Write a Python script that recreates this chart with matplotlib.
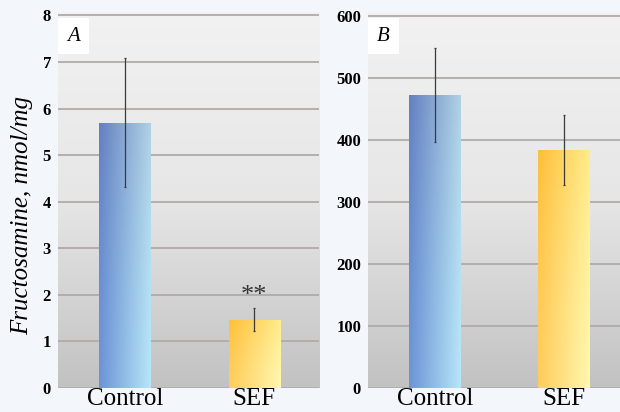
import numpy as np
import matplotlib
matplotlib.use('Agg')
import matplotlib.pyplot as plt
from matplotlib.colors import LinearSegmentedColormap

# -- data
groups = ['Control', 'SEF']
fa_mean = [5.7, 1.47]
fa_err = [1.39, 0.24]
fb_mean = [472, 384]
fb_err = [76, 57]
ticks_a = [0, 1, 2, 3, 4, 5, 6, 7, 8]
ticks_b = [0, 100, 200, 300, 400, 500, 600]

serif = ['Liberation Serif', 'DejaVu Serif']
figbg = '#f3f6fb'
gridcol = '#b0aba9'

fig = plt.figure(figsize=(6.2, 4.12), dpi=100, facecolor=figbg)

# gradient images: horizontal x vertical
nx, ny = 64, 128
hx = np.linspace(0, 1, nx)[None, :]
vy = np.linspace(0, 1, ny)[:, None]  # 0 = top


def bar_image(left_rgb, right_rgb, top_shift):
    left_rgb = np.array(left_rgb)
    right_rgb = np.array(right_rgb)
    img = left_rgb[None, None, :] * (1 - hx[..., None]) + right_rgb[None, None, :] * hx[..., None]
    # a bit darker toward the top
    img = img - top_shift[None, None, :] * (1 - vy[..., None]) ** 1.5
    return np.clip(img, 0, 1)


blue_img = bar_image([0.42, 0.58, 0.84], [0.72, 0.90, 0.97], np.array([0.03, 0.08, 0.08]))
yellow_img = bar_image([1.00, 0.80, 0.36], [1.00, 0.97, 0.68], np.array([0.0, 0.05, 0.14]))
bar_imgs = [blue_img, yellow_img]

bg_cmap = LinearSegmentedColormap.from_list('bg', ['#f2f2f2', '#e6e6e6', '#c2c2c2'])


def panel(rect, means, errs, ymax, ticks, letter):
    ax = fig.add_axes(rect)
    ax.set_facecolor('none')
    # background gradient
    ax.imshow(np.linspace(0, 1, 256)[:, None], aspect='auto', cmap=bg_cmap,
              extent=[0, 1, 0, 1], transform=ax.transAxes, zorder=0)
    x = np.arange(len(groups))
    bars = ax.bar(x, means, width=0.4, color='none', zorder=3)
    for b, img in zip(bars, bar_imgs):
        bx, by = b.get_x(), b.get_y()
        im = ax.imshow(img, aspect='auto', interpolation='bilinear',
                       extent=[bx, bx + b.get_width(), by, by + b.get_height()], zorder=3)
        im.set_clip_path(b)
    ax.errorbar(x, means, yerr=errs, fmt='none', ecolor='#3a3a3a', elinewidth=0.9,
                capsize=1.0, capthick=0.9, zorder=4)
    ax.set_xlim(-0.52, 1.5)
    ax.set_ylim(0, ymax)
    ax.set_yticks(ticks)
    ax.yaxis.grid(True, color=gridcol, linewidth=1.3, zorder=1)
    ax.set_axisbelow(True)
    ax.set_xticks(x)
    ax.set_xticklabels(groups, fontsize=18, family=serif)
    for lab in ax.get_yticklabels():
        lab.set_family(serif)
        lab.set_fontweight('bold')
        lab.set_fontsize(12)
    ax.tick_params(length=0, pad=5)
    ax.tick_params(axis='x', pad=0)
    for s in ax.spines.values():
        s.set_visible(False)
    ax.text(0.035, 0.962, letter, transform=ax.transAxes, ha='left', va='top',
            fontsize=15, style='italic', family=serif, zorder=6,
            bbox=dict(boxstyle='square,pad=0.42', facecolor='white', edgecolor='none'))
    return ax


axA = panel([0.0935, 0.0583, 0.421, 0.912], fa_mean, fa_err, 8.07, ticks_a, 'A')
axA.set_ylabel('Fructosamine, nmol/mg', fontsize=18, style='italic', family=serif)
axA.yaxis.set_label_coords(-0.095, 0.46)
axA.text(1, fa_mean[1] + fa_err[1] + 0.02, '**', ha='center', va='bottom',
         fontsize=19, family=serif, color='#333333', zorder=5)

axB = panel([0.5935, 0.0583, 0.42, 0.912], fb_mean, fb_err, 606, ticks_b, 'B')

fig.savefig('out.png', dpi=100, facecolor=figbg)
